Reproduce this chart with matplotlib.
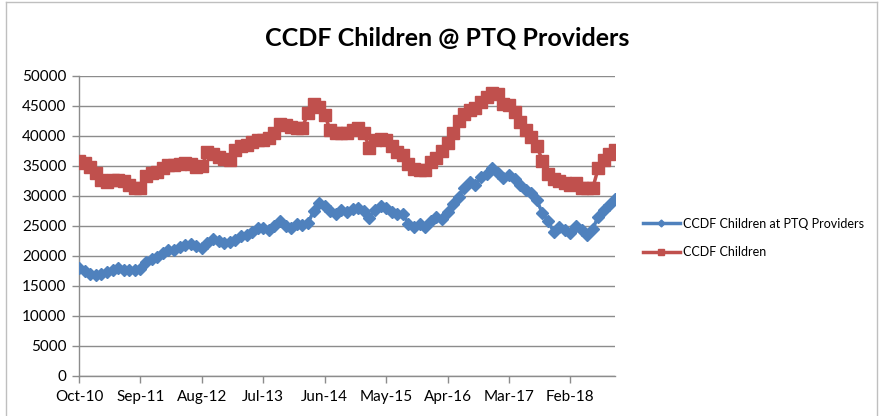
import matplotlib
matplotlib.use("Agg")
import matplotlib.pyplot as plt
import pandas as pd
from matplotlib.lines import Line2D

plt.rcParams['font.family'] = ['Lato', 'DejaVu Sans']

months = [d.strftime('%b-%y') for d in pd.date_range('2010-10-01', '2018-10-01', freq='MS')]

ptq = [18000, 17500, 17000, 16800, 17000, 17300, 17600, 17900, 17700, 17600,
       17700, 17800, 19000, 19400, 19800, 20500, 21000, 21000, 21400, 21800,
       22000, 21600, 21300, 22200, 22800, 22500, 22100, 22300, 22600, 23300,
       23400, 23900, 24600, 24600, 24300, 25000, 25700, 25000, 24600, 25200,
       25100, 25400, 27400, 28800, 28200, 27400, 27000, 27600, 27200, 27700,
       27900, 27400, 26300, 27600, 28200, 28000, 27300, 26900, 27000, 25300,
       24800, 25200, 24700, 25700, 26400, 26100, 27300, 28600, 29800, 31300,
       32300, 31800, 33100, 33600, 34600, 33700, 32900, 33400, 32700, 31800,
       31000, 30400, 29200, 27100, 25800, 24000, 24800, 24300, 23800, 25000,
       24200, 23500, 24500, 26500, 27600, 28500, 29500]

ccdf = [35800, 35500, 34800, 33700, 32600, 32300, 32600, 32600, 32400, 31800,
        31300, 31200, 33300, 33800, 34000, 34600, 35100, 35100, 35200, 35400,
        35300, 34800, 35000, 37200, 37000, 36400, 36100, 36000, 37600, 38200,
        38500, 38900, 39200, 39200, 39600, 40500, 42000, 41800, 41500, 41200,
        41300, 43800, 45300, 44800, 43500, 40900, 40500, 40400, 40400, 40900,
        41200, 40500, 38000, 39300, 39400, 39300, 38300, 37300, 36800, 35300,
        34500, 34300, 34300, 35600, 36200, 37400, 38800, 40400, 42500, 43600,
        44300, 44600, 45700, 46400, 47200, 46900, 45300, 45100, 44000, 42300,
        41000, 39700, 38300, 35800, 33600, 32700, 32400, 32100, 31800, 32100,
        31300, 31200, 31200, 34600, 36000, 37000, 37600]

title = 'CCDF Children @ PTQ Providers'
series_names = ['CCDF Children at PTQ Providers', 'CCDF Children']
blue = '#4F81BD'
red = '#C0504D'
grid_c = '#8C8C8C'

W, H = 880, 416
fig = plt.figure(figsize=(W / 100, H / 100), dpi=100)
ax = fig.add_axes([79 / W, 1 - 375.7 / H, (615 - 79) / W, 300 / H])

x = list(range(len(months)))
ax.plot(x, ccdf, color=red, lw=2.5, marker='s', ms=8, mec=red, mfc=red, zorder=3)
ax.plot(x, ptq, color=blue, lw=2.5, marker='D', ms=6.3, mec=blue, mfc=blue, zorder=4)

ax.set_xlim(0, len(months) - 1)
ax.set_ylim(0, 50000)
ax.set_yticks(range(0, 50001, 5000))
ax.set_xticks(x[::11])
ax.set_xticklabels(months[::11])
ax.grid(axis='y', color=grid_c, lw=1.0)
ax.set_axisbelow(True)
for s in ['top', 'right']:
    ax.spines[s].set_visible(False)
for s in ['left', 'bottom']:
    ax.spines[s].set_color(grid_c)
    ax.spines[s].set_linewidth(1.0)
ax.tick_params(axis='both', colors=grid_c, length=5, width=1.0, labelcolor='black', labelsize=11)
ax.tick_params(axis='y', pad=4)
ax.tick_params(axis='x', pad=5)

fig.text(447 / W, 1 - 38 / H, title, ha='center', va='center', fontsize=18, fontweight='bold')

handles = [Line2D([0], [0], color=blue, lw=2.5, marker='D', ms=3.5),
           Line2D([0], [0], color=red, lw=2.5, marker='s', ms=4.5)]
fig.legend(handles, series_names, loc='center left', bbox_to_anchor=(632 / W, 1 - 238 / H),
           frameon=False, fontsize=9, handlelength=2.9, handletextpad=0.25, labelspacing=1.35)

# chart border
fig.add_artist(Line2D([6 / W, 6 / W], [0, 1 - 2 / H], color='#BFBFBF', lw=1, transform=fig.transFigure))
fig.add_artist(Line2D([6 / W, 877 / W], [1 - 2 / H, 1 - 2 / H], color='#BFBFBF', lw=1, transform=fig.transFigure))
fig.add_artist(Line2D([877 / W, 877 / W], [0, 1 - 2 / H], color='#BFBFBF', lw=1, transform=fig.transFigure))

fig.savefig('out.png', dpi=100)
